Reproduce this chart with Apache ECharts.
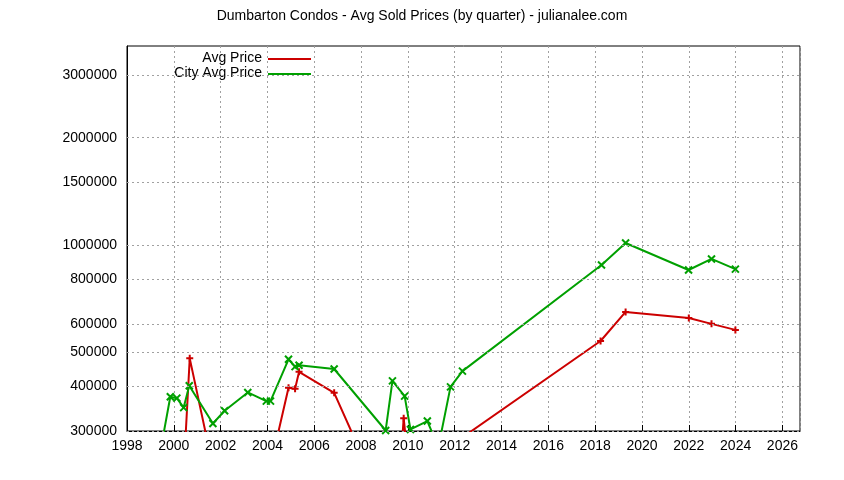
<!DOCTYPE html>
<html>
<head>
    <meta charset="utf-8"/>
    <title>Dumbarton Condos</title>
    <script src="https://cdn.jsdelivr.net/npm/echarts@6/dist/echarts.min.js"></script>
</head>
<body style="margin:0">
<div id="chart" style="width:844px;height:480px"></div>
<script type="text/javascript">
    // [year, price]
    var avgPrice = [
        [2000.45, 250000], [2000.68, 480000], [2001.6, 250000],
        [2004.2, 250000], [2004.9, 397000], [2005.18, 394000], [2005.35, 440000],
        [2006.85, 384000], [2008.0, 260000],
        [2009.7, 250000], [2009.82, 326000], [2010.0, 250000],
        [2012.4, 290000], [2018.23, 537000], [2019.3, 648000],
        [2022.0, 623000], [2022.97, 600000], [2023.99, 577000]
    ];
    var cityAvgPrice = [
        [1999.5, 280000], [1999.85, 374500], [2000.13, 371000], [2000.42, 349000],
        [2000.66, 402000], [2001.67, 315000], [2002.17, 342000], [2003.16, 385000],
        [2003.95, 364000], [2004.13, 364000], [2004.9, 477000], [2005.18, 455000],
        [2005.35, 459000], [2006.85, 448000], [2009.05, 301000], [2009.34, 415000],
        [2009.86, 376000], [2010.11, 303000], [2010.83, 320000], [2011.3, 270000],
        [2011.82, 399000], [2012.33, 442000], [2018.27, 878000], [2019.3, 1012000],
        [2021.99, 850000], [2022.97, 913000], [2023.99, 855000]
    ];
    var yTicks = [300000, 400000, 500000, 600000, 800000, 1000000, 1500000, 2000000, 3000000];

    var plusPath = 'path://M5,0L5,10M0,5L10,5';
    var crossPath = 'path://M0,0L10,10M10,0L0,10';
    var font = 'Liberation Sans';
    var red = '#cc0000', green = '#00a000';

    function legendItem(label, color, y) {
        return [
            {type: 'text', right: 582, top: y - 8,
                style: {text: label, fill: '#000', font: '14px "Liberation Sans"', textAlign: 'right'}},
            {type: 'line', shape: {x1: 268, y1: y, x2: 311, y2: y}, style: {stroke: color, lineWidth: 2}}
        ];
    }

    var option = {
        animation: false,
        textStyle: {fontFamily: font},
        title: {
            text: 'Dumbarton Condos - Avg Sold Prices (by quarter) - julianalee.com',
            left: 'center', top: 4,
            textStyle: {fontSize: 14, fontWeight: 'normal', color: '#000', fontFamily: font}
        },
        graphic: legendItem('Avg Price', red, 59).concat(legendItem('City Avg Price', green, 74)),
        grid: {left: 127, right: 44, top: 46, bottom: 49, show: true, borderColor: '#000', borderWidth: 1},
        xAxis: {
            type: 'value', min: 1998, max: 2026.75, interval: 2,
            axisLine: {lineStyle: {color: '#000'}},
            axisTick: {inside: true, length: 6, lineStyle: {color: '#000'}},
            axisLabel: {color: '#000', fontSize: 14, showMaxLabel: false, fontFamily: font,
                formatter: function (v) { return String(v); }},
            splitLine: {show: true, lineStyle: {color: '#a0a0a0', type: [2, 3]}}
        },
        yAxis: {
            type: 'log', min: 300000, max: 3620000,
            axisLine: {show: true, lineStyle: {color: '#000'}},
            axisTick: {show: false}, axisLabel: {show: false}, splitLine: {show: false}
        },
        series: [{
            name: 'Avg Price', type: 'line', data: avgPrice, clip: true,
            color: red, lineStyle: {width: 2},
            symbol: plusPath, symbolSize: 7, itemStyle: {color: red, borderColor: red, borderWidth: 2}
        }, {
            name: 'City Avg Price', type: 'line', data: cityAvgPrice, clip: true,
            color: green, lineStyle: {width: 2},
            symbol: crossPath, symbolSize: 7, itemStyle: {color: green, borderColor: green, borderWidth: 2},
            markLine: {
                silent: true, symbol: 'none', animation: false,
                lineStyle: {color: '#a0a0a0', type: [2, 3], width: 1},
                label: {show: true, position: 'start', color: '#000', fontSize: 14, fontFamily: font, distance: 10,
                    formatter: function (p) { return String(p.value); }},
                data: yTicks.map(function (v) { return {yAxis: v, name: ''}; })
            }
        }]
    };

    var chart = echarts.init(document.getElementById('chart'));
    chart.setOption(option);
</script>
</body>
</html>
